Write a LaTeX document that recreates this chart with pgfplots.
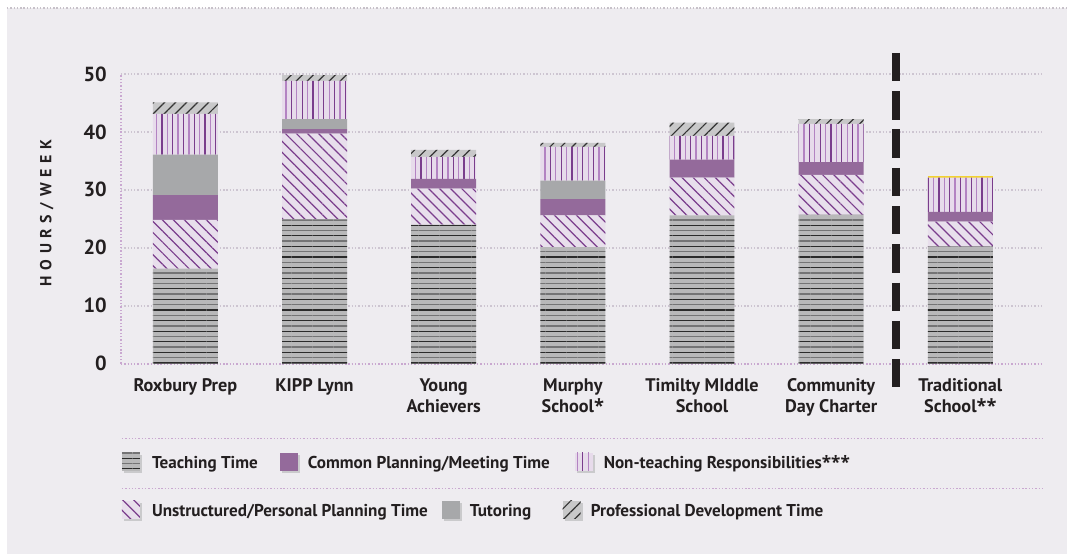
\documentclass[border=0pt]{standalone}
\usepackage{fontspec}
\setmainfont{PT Sans}
\newfontfamily\astfont{Open Sans}
\newcommand{\astx}{{\astfont\bfseries*}}
\usepackage{pgfplots}
\pgfplotsset{compat=1.18}
\usetikzlibrary{patterns,patterns.meta}

\definecolor{panelbg}{HTML}{EEECF0}
\definecolor{teachbg}{HTML}{B8B8B9}
\definecolor{teachdark}{HTML}{2B2B2B}
\definecolor{teachmid}{HTML}{747475}
\definecolor{unstrbg}{HTML}{E8DFEC}
\definecolor{purpline}{HTML}{7A3D8C}
\definecolor{commonc}{HTML}{946A9B}
\definecolor{tutorc}{HTML}{A7A8AA}
\definecolor{nontbg}{HTML}{E7DBEB}
\definecolor{nontlight}{HTML}{B383C2}
\definecolor{pdbg}{HTML}{C8C8C9}
\definecolor{pdline}{HTML}{333333}
\definecolor{gridc}{HTML}{CDC5D1}
\definecolor{axisc}{HTML}{C9A8D0}
\definecolor{dashc}{HTML}{231F20}
\definecolor{textc}{HTML}{231F20}
\definecolor{shadowc}{HTML}{CACACC}
\definecolor{yellowc}{HTML}{F2D230}

\tikzset{
  teachst/.style={fill=teachbg, draw=none,
    postaction={pattern={Lines[angle=0,distance=10.6bp,line width=1.2bp]}, pattern color=teachdark},
    postaction={pattern={Lines[angle=0,distance=10.6bp,yshift=5.3bp,line width=1.5bp]}, pattern color=teachmid}},
  unstrst/.style={fill=unstrbg, draw=none,
    postaction={pattern={Lines[angle=-45,distance=7.8bp,line width=1.2bp]}, pattern color=purpline}},
  commonst/.style={fill=commonc, draw=none},
  tutorst/.style={fill=tutorc, draw=none},
  nontst/.style={fill=nontbg, draw=none,
    postaction={pattern={Lines[angle=90,distance=10.8bp,line width=1.3bp]}, pattern color=purpline},
    postaction={pattern={Lines[angle=90,distance=10.8bp,xshift=5.4bp,line width=1.3bp]}, pattern color=nontlight}},
  pdst/.style={fill=pdbg, draw=none,
    postaction={pattern={Lines[angle=45,distance=7.8bp,line width=1.2bp]}, pattern color=pdline}},
  dotline/.style={line width=1.6bp, dash pattern=on 1.4bp off 1.9bp},
}
\newcommand{\legfont}{\fontsize{17.2}{20}\selectfont\bfseries\color{textc}}

\begin{document}
\begin{tikzpicture}
\fill[white] (0,0) rectangle (1068bp,554bp);
\fill[panelbg] (7bp,0) rectangle (1068bp,546bp);
\draw[dotline, draw=gridc!90!black!80] (7bp,546bp) -- (1068bp,546bp);

\begin{axis}[
  at={(121bp,190bp)}, anchor=south west,
  scale only axis, width=922bp, height=290bp,
  xmin=-0.499, xmax=6.634, ymin=0, ymax=50,
  ybar stacked, bar width=65bp,
  axis lines*=left,
  axis line style={draw=axisc, dotline},
  ymajorgrids, grid style={draw=gridc, dotline},
  ytick={0,10,20,30,40,50}, xtick={0,1,2,3,4,5,6},
  xticklabels={Roxbury Prep, KIPP Lynn, {Young\\Achievers}, {Murphy\\School\astx}, {Timilty MIddle\\School}, {Community\\Day Charter}, {Traditional\\School\astx\astx}},
  major tick length=0pt, tick style={draw=none},
  /pgf/number format/assume math mode=true,
  yticklabel style={font=\fontsize{20.5}{22}\selectfont\bfseries, text=textc, inner sep=0pt, xshift=-14bp, anchor=east},
  xticklabel style={font=\fontsize{18.3}{21}\selectfont\bfseries, text=textc, align=center, anchor=north, inner sep=0pt, yshift=-15bp},
  ylabel={\fontsize{16}{18}\selectfont\bfseries H\kern5.6bp O\kern5.6bp U\kern5.6bp R\kern5.6bp S\kern5.6bp /\kern5.6bp W\kern5.6bp E\kern5.6bp E\kern5.6bp K},
  every axis y label/.style={at={(rel axis cs:-0.0803,0.52)}, rotate=90, anchor=center, text=textc},
  clip=false,
]
\addplot[teachst] coordinates {(0,16.4) (1,24.9) (2,24.0) (3,20.1) (4,25.6) (5,25.7) (6,20.2)};
\addplot[unstrst] coordinates {(0,8.4) (1,14.8) (2,6.2) (3,5.5) (4,6.5) (5,6.9) (6,4.3)};
\addplot[commonst] coordinates {(0,4.3) (1,0.8) (2,1.7) (3,2.8) (4,3.1) (5,2.2) (6,1.7)};
\addplot[tutorst] coordinates {(0,7.0) (1,1.7) (2,0) (3,3.2) (4,0) (5,0) (6,0)};
\addplot[nontst] coordinates {(0,7.0) (1,6.6) (2,3.8) (3,5.8) (4,4.1) (5,6.6) (6,5.9)};
\addplot[pdst] coordinates {(0,2.0) (1,1.0) (2,1.2) (3,0.7) (4,2.3) (5,0.8) (6,0)};
\addplot[fill=yellowc, draw=none] coordinates {(0,0) (1,0) (2,0) (3,0) (4,0) (5,0) (6,0.25)};
\end{axis}

% separator between own schools and traditional school
\draw[draw=dashc, line width=8bp, dash pattern=on 28.3bp off 10bp] (896.5bp,501bp) -- (896.5bp,166bp);

% legend
\draw[dotline, draw=axisc] (122bp,115bp) -- (1043bp,115bp);
\draw[dotline, draw=axisc] (122bp,65bp) -- (1043bp,65bp);

\fill[shadowc] (124bp,81bp) rectangle ++(18bp,18bp);
\path[teachst] (122bp,83bp) rectangle ++(18bp,18bp);
\node[anchor=base west, inner sep=0pt, font=\legfont] at (152bp,85bp) {Teaching Time};

\fill[shadowc] (282bp,81bp) rectangle ++(18bp,18bp);
\path[commonst] (280bp,83bp) rectangle ++(18bp,18bp);
\node[anchor=base west, inner sep=0pt, font=\legfont] at (308bp,85bp) {Common Planning/Meeting Time};

\fill[shadowc] (577bp,81bp) rectangle ++(18bp,18bp);
\path[nontst] (575bp,83bp) rectangle ++(18bp,18bp);
\node[anchor=base west, inner sep=0pt, font=\legfont] at (604bp,85bp) {Non-teaching Responsibilities\astx\astx\astx};

\fill[shadowc] (124bp,33bp) rectangle ++(18bp,18bp);
\path[unstrst] (122bp,35bp) rectangle ++(18bp,18bp);
\node[anchor=base west, inner sep=0pt, font=\legfont] at (152bp,37bp) {Unstructured/Personal Planning Time};

\fill[shadowc] (444bp,33bp) rectangle ++(18bp,18bp);
\path[tutorst] (442bp,35bp) rectangle ++(18bp,18bp);
\node[anchor=base west, inner sep=0pt, font=\legfont] at (470bp,37bp) {Tutoring};

\fill[shadowc] (565bp,33bp) rectangle ++(18bp,18bp);
\path[pdst] (563bp,35bp) rectangle ++(18bp,18bp);
\node[anchor=base west, inner sep=0pt, font=\legfont] at (591bp,37bp) {Professional Development Time};
\end{tikzpicture}
\end{document}
